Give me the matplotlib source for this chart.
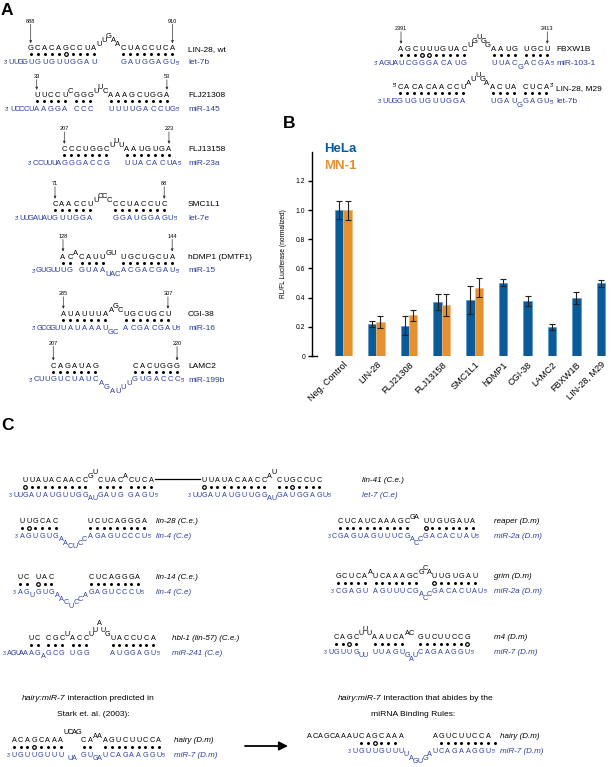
import matplotlib
matplotlib.use('Agg')
import matplotlib.pyplot as plt
import numpy as np

plt.rcParams['font.family'] = ['Liberation Sans', 'DejaVu Sans']

# ---------------- Panel B data ----------------
categories = ['Neg. Control', 'LIN-28', 'FLJ21308', 'FLJ13158', 'SMC1L1',
              'hDMP1', 'CGI-38', 'LAMC2', 'FBXW1B', 'LIN-28, M29']
hela = [1.00, 0.218, 0.207, 0.369, 0.382, 0.503, 0.380, 0.198, 0.398, 0.497]
hela_err = [0.060, 0.022, 0.065, 0.053, 0.095, 0.024, 0.034, 0.022, 0.040, 0.022]
mn1 = [1.00, 0.235, 0.279, 0.352, 0.467]
mn1_err = [0.065, 0.040, 0.036, 0.075, 0.065]
y_ticks = [0, 0.2, 0.4, 0.6, 0.8, 1.0, 1.2]
y_tick_labels = ['0', '0.2', '0.4', '0.6', '0.8', '1.0', '1.2']
series_names = ['HeLa', 'MN-1']
y_label = 'RL/FL Luciferase (normalized)'

# ---------------- Panel A / C sequences ----------------
# digits after a letter = raise (top strand) / lower (bottom strand) level
# dots: '.' = Watson-Crick pair, 'o' = G:U wobble
lin28_wt = ("    GCACAGCCUAU1U2G3A2A1CUACCUCA",
            "    .....o....     ........",
            "UUGGUGUGUUGGAU     GAUGGAGU",
            ("LIN-28, wt", "let-7b"), [("888", 4), ("910", 26)])
flj21308 = ("     UUCCUC1GGGU1U2C1AAAGCUGGA",
            "     ..... ...   .........",
            "UCCCUAAGGA CCC   UUUUGACCUG",
            ("FLJ21308", "miR-145"), [("33", 5), ("53", 25)])
flj13158 = ("      CCCUGGCU1U2U1AAUGUGA",
            "      .......   .......",
            "CCUUUAGGGACCG   UUACACUA",
            ("FLJ13158", "miR-23a"), [("207", 6), ("223", 22)])
smc1l1 = ("       CAACCUU1C2C2C1CCUACCUC",
          "       ......    ........",
          "UUGAUAUGUUGGA    GGAUGGAGU",
          ("SMC1L1", "let-7e"), [("71", 7), ("88", 24)])
hdmp1 = ("     ACA1CAUUG1U1 UGCUGCUA",
         "     .. ....   ........",
         "GUGUUUG GUAAU1A1C1ACGACGAU",
         ("hDMP1 (DMTF1)", "miR-15"), [("128", 5), ("144", 22)])
cgi38 = ("     AUAUUUAA1G2C1UGCUGCU",
         "     .......   .......",
         "GCGGUUAUAAAUG1C1 ACGACGAU",
         ("CGI-38", "miR-16"), [("285", 5), ("307", 21)])
lamc2 = ("   CAGAUAG      CACUGGG",
         "   .......      .......",
         "CUUGUCUAUCA1G2A3U3U2U1GUGACCC",
         ("LAMC2", "miR-199b"), [("207", 3), ("220", 22)])
fbxw1b = ("    AGCUUUGUACU1G2U3G2G1AAUG UGCU",
          "    ...oo.....     .... ....",
          "AGUAUCGGGACAUG     UUACG1ACGA",
          ("FBXW1B", "miR-103-1"), [("2391", 4), ("2413", 27)])
lin28_m29 = ("   CACACAACCUA1U2U3G2A1ACUA CUCA",
             "   ..........     .... ....",
             "UUGGUGUGUUGGA     UGAUG1GAGU",
             ("LIN-28, M29", "let-7b"), [])

lin41_a = ("  UUAUACAACCG1U2CUACA1CUCA",
           "  o.........  .... ....",
           "UUGAUAUGUUGGA1U1GAUG GAGU")
lin41_b = ("  UUAUACAACCA1U2CUGCCUC",
           "  o.........  ..o....",
           "UUGAUAUGUUGGA1U1GAUGGAGU",
           ("lin-41 (C.e.)", "let-7 (C.e)"))
lin28_ce = ("UUGCAC      UCUCAGGGA",
            ".o....      .........",
            "AGUGUGA1A2C3U3C2C1AGAGUCCCU",
            ("lin-28 (C.e.)", "lin-4 (C.e)"))
lin14_ce = ("UC UAC       CUCAGGGA",
            ".. o..       ........",
            "AGU1GUGA1A2C3U4C3C2A1GAGUCCCU",
            ("lin-14 (C.e.)", "lin-4 (C.e)"))
hbl1_ce = ("     UC CGCU1ACCU1U2A4U2G1UACCUCA",
           "     .. ... ...     .......",
           "AGUAAAGA1GCG UGG     AUGGAGU",
           ("hbl-1 (lin-57) (C.e.)", "miR-241 (C.e)"))
reaper_dm = (" CUCAUCAAAGCG1A1 UUGUGAUA",
             " ...........   o.......",
             "CGAGUAGUUUCGA1C2C1GACACUAU",
             ("reaper (D.m)", "miR-2a (D.m)"))
grim_dm = ("GCUCAA1UCAAAGCG1C2A1UUGUGAU",
           "..... .......   o......",
           "CGAGU AGUUUCGA1C2C1GACACUAU",
           ("grim (D.m)", "miR-2a (D.m)"))
m4_dm = (" CAGCU1U2U1AAUCAA1C1 GUCUUCCG",
         " ..o.   .....   .......o",
         "UGUUGU1U1 UUAGUG1A2U1CAGAAGGU",
         ("m4 (D.m)", "miR-7 (D.m)"))
hairy_stark = ("ACAGCAAAU2C2A2G2CAA1A1AGUCUUCCA",
               "...o....    ..  .........",
               "UGUUGUUU U1A1 GUG1A1UCAGAAGGU",
               ("hairy (D.m)", "miR-7 (D.m)"))
hairy_rules = ("ACAGCAAAUCAGCAAA      AGUCUUCCA",
               "         ..o...        .........",
               "        UGUUGUUUU1A2G3U3G2A1UCAGAAGGU",
               ("hairy (D.m)", "miR-7 (D.m)"))

BLUE = '#2e3f9c'
HELA_C = '#0b5b98'
MN1_C = '#e6912f'

W, H = 611, 767
fig = plt.figure(figsize=(W / 100, H / 100), dpi=100)
ax = fig.add_axes([0, 0, 1, 1])
ax.set_xlim(0, W)
ax.set_ylim(H, 0)
ax.axis('off')


def put(x, y, s, fs, color='black', ha='center', style='normal', weight='normal'):
    ax.text(x, y + 0.36 * fs * 100 / 72, s, fontsize=fs, color=color, ha=ha,
            va='baseline', fontstyle=style, fontweight=weight)


def parse(s):
    toks = []
    for ch in s:
        if ch.isdigit() and toks:
            toks[-1][1] = int(ch)
        else:
            toks.append([ch, 0])
    return toks


def duplex(spec, xa, y, lx=None, dx=7.0, sh=0.65, tu=1.0, fs=5.5, step=4.0, gd=6.5, gb=7.0,
           dd=3.0, lfs=6.0, lstyle='normal', noff=20, ends=False, numbers=True):
    top, dots, bot = spec[0], spec[1], spec[2]
    lab = spec[3] if len(spec) > 3 else None
    nums = spec[4] if (len(spec) > 4 and numbers) else []
    T = parse(top); B = parse(bot); D = list(dots)
    n = max(len(T), len(B), len(D))
    T += [[' ', 0]] * (n - len(T)); B += [[' ', 0]] * (n - len(B)); D += [' '] * (n - len(D))
    w = []
    for c in range(n):
        if D[c] != ' ':
            w.append(dx)
        elif T[c][0] != ' ' and T[c][1] == 0:
            w.append(dx * tu)
        else:
            w.append(dx * sh)
    xs = np.zeros(n)
    for c in range(1, n):
        xs[c] = xs[c - 1] + (w[c - 1] + w[c]) / 2
    a = next(c for c in range(n) if T[c][0] != ' ')
    xs += xa - xs[a]
    yd = y + gd
    yb = yd + gb
    fill_x, hol_x = [], []
    for c in range(n):
        ch, l = T[c]
        if ch != ' ':
            put(xs[c], y - l * step, ch, fs)
        ch, l = B[c]
        if ch != ' ':
            put(xs[c], yb + l * step, ch, fs, BLUE)
        if D[c] == '.':
            fill_x.append(xs[c])
        elif D[c] == 'o':
            hol_x.append(xs[c])
    ax.scatter(fill_x, [yd] * len(fill_x), s=(dd * 0.72) ** 2, color='black', lw=0)
    ax.scatter(hol_x, [yd] * len(hol_x), s=((dd + 0.6) * 0.72) ** 2, facecolor='white',
               edgecolor='black', lw=0.9)
    bidx = [c for c in range(n) if B[c][0] != ' ']
    put(xs[bidx[0]] - 0.5 * dx, yb + 1.2, "3'", fs * 0.7, BLUE, ha='right')
    put(xs[bidx[-1]] + 0.5 * dx, yb + 1.5, "5'", fs * 0.7, BLUE, ha='left')
    tidx = [c for c in range(n) if T[c][0] != ' ']
    if ends:
        put(xs[tidx[0]] - 0.45 * dx, y - 1.5, "5'", fs * 0.7, ha='right')
        put(xs[tidx[-1]] + 0.45 * dx, y - 1.5, "3'", fs * 0.7, ha='left')
    if lab and lx is not None:
        put(lx, y, lab[0], lfs, ha='left', style=lstyle)
        put(lx, yb, lab[1], lfs, BLUE, ha='left', style=lstyle)
    for txt, c in nums:
        put(xs[c], y - noff, txt, 4.0)
        ax.annotate('', xy=(xs[c], y - 4.5), xytext=(xs[c], y - noff + 3.5),
                    arrowprops=dict(arrowstyle='-|>', lw=0.5, color='#333333',
                                    mutation_scale=3.5, shrinkA=0, shrinkB=0))
    return xs[tidx[0]], xs[tidx[-1]]


# ---------------- Panel A ----------------
ax.text(1, 15, 'A', fontsize=12.5, fontweight='bold', va='baseline')
LXA = 188
duplex(lin28_wt, 30.7, 47.7, LXA, noff=27)
duplex(flj21308, 36.7, 94.3, LXA, noff=18)
duplex(flj13158, 64.3, 148.3, LXA)
duplex(smc1l1, 55.0, 203.3, LXA)
duplex(hdmp1, 63.0, 256.0, LXA)
duplex(cgi38, 63.3, 313.3, LXA)
duplex(lamc2, 53.3, 365.0, LXA, sh=0.78, noff=22)
duplex(fbxw1b, 401.0, 48.3, 556, noff=20)
duplex(lin28_m29, 400.0, 86.7, 556, ends=True)

# ---------------- Panel C ----------------
ax.text(1, 430, 'C', fontsize=12.5, fontweight='bold', va='baseline')
kc = dict(dx=6.7, sh=0.6, fs=5.2, step=3.6, gd=7.5, gb=7.5, dd=3.0, lfs=5.8, lstyle='italic')
y41 = 479
la0, la1 = duplex(lin41_a, 25.0, y41, None, **kc)
lb0, lb1 = duplex(lin41_b, 204.0, y41, 362, **kc)
ax.plot([la1 + 4, lb0 - 4], [y41, y41], color='black', lw=0.9)
kv = dict(kc, sh=0.7)
duplex(lin28_ce, 22.0, 520, 156, **kv)
duplex(reaper_dm, 340.0, 520, 494, **kc)
duplex(lin14_ce, 20.0, 576, 156, **kv)
duplex(grim_dm, 338.0, 575, 494, **kc)
duplex(hbl1_ce, 31.0, 637, 172, **kc)
duplex(m4_dm, 336.0, 636, 494, **kc)
duplex(hairy_stark, 14.0, 739, 174, **kc)
duplex(hairy_rules, 309.0, 735, 500, **dict(kc, tu=0.86, sh=0.7))

put(65, 697, 'hairy:miR-7', 6.1, ha='right', style='italic')
put(65, 697, ' interaction predicted in', 6.1, ha='left')
put(93, 713, 'Stark et. al. (2003):', 6.1)
put(381, 697, 'hairy:miR-7', 6.1, ha='right', style='italic')
put(381, 697, ' interaction that abides by the', 6.1, ha='left')
put(413, 713, 'miRNA Binding Rules:', 6.1)
ax.annotate('', xy=(288, 746), xytext=(245, 746),
            arrowprops=dict(arrowstyle='-|>', lw=1.3, color='black', mutation_scale=13,
                            shrinkA=0, shrinkB=0))

# ---------------- Panel B ----------------
ax.text(283, 128, 'B', fontsize=12.5, fontweight='bold', va='baseline')
ax_l, ax_r, ax_t, ax_b = 312, 611, 151.7, 356
bx = fig.add_axes([ax_l / W, 1 - ax_b / H, (ax_r - ax_l) / W, (ax_b - ax_t) / H])
px_per_unit = 8.4
gap = 16.0 / px_per_unit
pos = []
cur = 0.0
for i in range(len(categories)):
    nb = 2 if i < len(mn1) else 1
    pos.append(cur)
    cur += nb + gap
pos = np.array(pos)
ekw = dict(ecolor='#222222', elinewidth=0.8, capsize=2.2, capthick=0.8)
bx.bar(pos + 0.5, hela, width=1.0, color=HELA_C, edgecolor='#5d96c8', lw=0.5,
       yerr=hela_err, error_kw=ekw)
bx.bar(pos[:len(mn1)] + 1.5, mn1, width=1.0, color=MN1_C, edgecolor='#f3b777', lw=0.5,
       yerr=mn1_err, error_kw=ekw)
left = -(335 - ax_l) / px_per_unit
bx.set_xlim(left, left + (ax_r - ax_l) / px_per_unit)
bx.set_ylim(0, 1.4)
centers = [pos[i] + (1.0 if i < len(mn1) else 0.5) for i in range(len(categories))]
bx.set_xticks(centers)
bx.set_xticklabels(categories, rotation=45, ha='right', rotation_mode='anchor', fontsize=6.6)
bx.tick_params(axis='x', length=0, pad=3)
bx.set_yticks(y_ticks)
bx.set_yticklabels(y_tick_labels, fontsize=4.9)
bx.tick_params(axis='y', length=3, width=1, direction='out', pad=2)
for s in ['top', 'right', 'bottom']:
    bx.spines[s].set_visible(False)
bx.spines['left'].set_linewidth(1)
bx.plot([0, 0.018], [0, 0], transform=bx.get_yaxis_transform(), color='black', lw=1,
        clip_on=False)
bx.set_ylabel(y_label, fontsize=4.8, labelpad=6)
bx.patch.set_alpha(0)
ax.text(324, 152, series_names[0], fontsize=9.5, fontweight='bold', color=HELA_C, va='baseline')
ax.text(324, 169, series_names[1], fontsize=9.5, fontweight='bold', color=MN1_C, va='baseline')

fig.savefig('out.png', dpi=100)
